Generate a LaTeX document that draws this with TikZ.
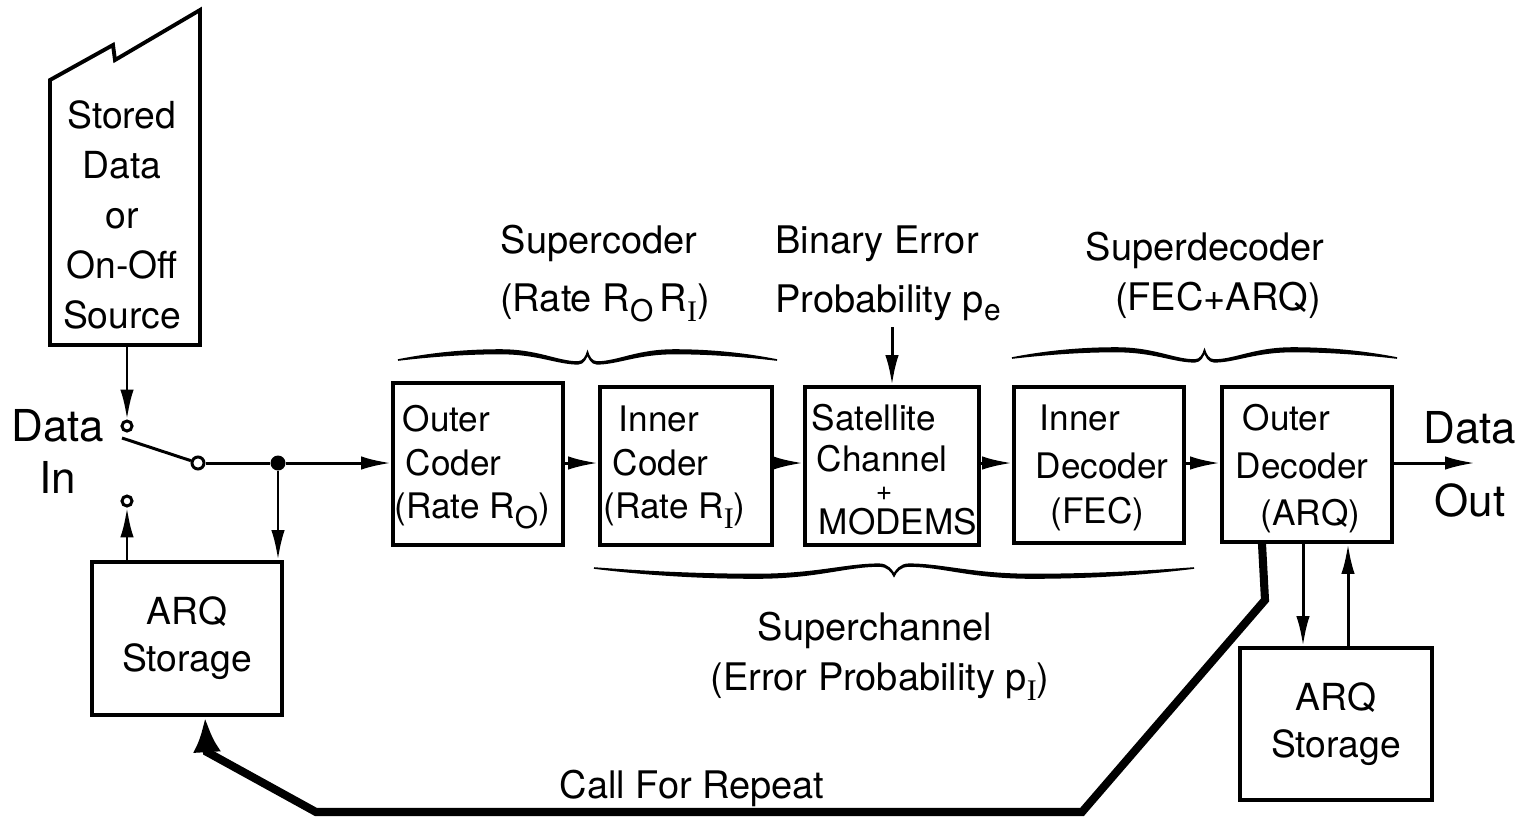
\documentclass[tikz,border=0pt]{standalone}
\usepackage{fontspec}
\setmainfont{TeX Gyre Heros}
\newfontfamily\serifI{Liberation Serif}
\usetikzlibrary{arrows.meta}
\newcommand\subO{\raisebox{-0.55ex}{\fontsize{8.5}{8.5}\selectfont O}}
\newcommand\subI{\raisebox{-0.55ex}{\fontsize{8.5}{8.5}\selectfont\serifI I}}
\newcommand\sube{\raisebox{-0.45ex}{\fontsize{8.5}{8.5}\selectfont e}}
\newcommand\calbrace[4]{%
\filldraw[line width=0.45pt, shift={(#1,#2)}, xscale=#3, yscale=#4]
 (0,0) .. controls (0.08,-6) and (0.17,-10) .. (0.27,-10)
 .. controls (0.37,-10) and (0.42,2) .. (0.475,2)
 .. controls (0.49,2) and (0.497,-4) .. (0.5,-8)
 .. controls (0.503,-4) and (0.51,2) .. (0.525,2)
 .. controls (0.58,2) and (0.63,-10) .. (0.73,-10)
 .. controls (0.83,-10) and (0.92,-6) .. (1,0)
 .. controls (0.92,-3.5) and (0.83,-6.5) .. (0.73,-6.5)
 .. controls (0.63,-6.5) and (0.58,3.8) .. (0.525,3.8)
 .. controls (0.51,3.8) and (0.503,-3) .. (0.5,-6.3)
 .. controls (0.497,-3) and (0.49,3.8) .. (0.475,3.8)
 .. controls (0.42,3.8) and (0.37,-6.5) .. (0.27,-6.5)
 .. controls (0.17,-6.5) and (0.08,-3.5) .. (0,0) -- cycle;}
\begin{document}
\begin{tikzpicture}[x=0.01cm, y=-0.01cm,
  box/.style={draw, line width=1.1pt, inner sep=0pt},
  tx/.style={inner sep=0pt, anchor=base west, font=\fontsize{10}{12}\selectfont},
  lbl/.style={inner sep=0pt, anchor=base, font=\fontsize{10.8}{13}\selectfont},
  ln/.style={line width=0.85pt},
  arr/.style={ln, -{Latex[length=8.5pt,width=3.8pt]}},
  big/.style={line width=2.3pt, -{Latex[length=10pt,width=8pt]}},
  contact/.style={circle, draw, ln, inner sep=0pt, fill=white}]
\fill[white] (0,0) rectangle (1530,820);
\useasboundingbox (0,0) rectangle (1530,820);

% stored data source
\draw[line width=1.1pt] (50,345) -- (50,80) -- (113,45) -- (115,60) -- (200,10) -- (200,345) -- cycle;
\node[inner sep=0pt, align=center, font=\fontsize{10.6}{14.2}\selectfont] (stored) at (122,215) {Stored\\Data\\or\\On-Off\\Source};
\coordinate (srcb) at (127,345);

% switch
\node[contact, minimum size=0.1cm] (sw1) at (127,426) {};
\node[contact, minimum size=0.12cm] (sw0) at (198,463) {};
\node[contact, minimum size=0.1cm] (sw2) at (127,501) {};
\node[circle, fill, inner sep=0pt, minimum size=0.15cm] (j) at (278,463) {};
\coordinate (armend) at (122,438);
\node[inner sep=0pt, align=center, font=\fontsize{12.5}{14.8}\selectfont] (din) at (58,451) {Data\\In};

% boxes
\node[box, minimum width=1.70cm, minimum height=1.62cm] (oc) at (478,464) {};
\node[box, minimum width=1.72cm, minimum height=1.58cm] (ic) at (686,466) {};
\node[box, minimum width=1.74cm, minimum height=1.58cm] (sat) at (892,466) {};
\node[box, minimum width=1.70cm, minimum height=1.56cm] (id) at (1099,465) {};
\node[box, minimum width=1.70cm, minimum height=1.55cm] (od) at (1307,464.5) {};
\node[box, minimum width=1.90cm, minimum height=1.53cm, align=center, font=\fontsize{10.6}{13.4}\selectfont] (ars1) at (187,638.5) {ARQ\\Storage};
\node[box, minimum width=1.92cm, minimum height=1.52cm, align=center, font=\fontsize{10.6}{13.4}\selectfont] (ars2) at (1336,724) {ARQ\\Storage};

% box texts
\node[tx] (oc1) at (402,431) {Outer};
\node[tx] (oc2) at (405,475) {Coder};
\node[tx] (oc3) at (394,518) {(Rate R\subO)};
\node[tx] (ic1) at (618,431) {Inner};
\node[tx] (ic2) at (612,475) {Coder};
\node[tx] (ic3) at (603,518) {(Rate R\subI)};
\node[tx] (sat1) at (811,430) {Satellite};
\node[tx] (sat2) at (816,471) {Channel};
\node[inner sep=0pt, font=\fontsize{8}{8}\selectfont] (plus) at (884,494) {+};
\node[tx] (sat3) at (818,534) {MODEMS};
\node[tx] (id1) at (1039,430) {Inner};
\node[tx] (id2) at (1035,478) {Decoder};
\node[tx] (id3) at (1050,523) {(FEC)};
\node[tx] (od1) at (1242,430) {Outer};
\node[tx] (od2) at (1235,478) {Decoder};
\node[tx] (od3) at (1260,525) {(ARQ)};

% labels
\node[lbl] (scd1) at (599,253) {Supercoder};
\node[lbl] (scd2) at (605,311) {(Rate R\subO\,R\subI)};
\node[lbl] (ber1) at (877,253) {Binary Error};
\node[lbl] (ber2) at (888,312) {Probability p\sube};
\node[lbl] (sdc1) at (1205,260) {Superdecoder};
\node[lbl] (sdc2) at (1218,310) {(FEC+ARQ)};
\node[lbl] (sch1) at (875,640) {Superchannel};
\node[lbl] (sch2) at (880,690) {(Error Probability p\subI)};
\node[lbl] (cfr) at (692,798) {Call For Repeat};
\node[inner sep=0pt, align=center, font=\fontsize{12.5}{20.8}\selectfont] (dout) at (1470,464) {Data\\Out};

% braces
\calbrace{398}{360}{379}{1}
\calbrace{1012}{358}{385}{1}
\calbrace{594}{568}{600}{-1}

% connectors
\coordinate (row) at (0,463);
\draw[arr] (srcb) -- (sw1);
\draw[ln] (armend) -- (sw0);
\draw[ln] (sw0) -- (j);
\draw[arr] (j) -- (j -| oc.west);
\draw[arr] (j) -- (j |- ars1.north);
\draw[arr] (ars1.north -| sw2) -- (sw2);
\draw[arr] (oc.east |- row) -- (ic.west |- row);
\draw[arr] (ic.east |- row) -- (sat.west |- row);
\draw[arr] (sat.east |- row) -- (id.west |- row);
\draw[arr] (id.east |- row) -- (od.west |- row);
\coordinate (outend) at (1475,463);
\draw[arr] (od.east |- row) -- (outend);
\coordinate (pe) at (892,327);
\draw[arr] (pe) -- (sat.north);
\coordinate (c1) at (1303,0);
\coordinate (c2) at (1348,0);
\draw[arr] (od.south -| c1) -- (ars2.north -| c1);
\draw[arr] (ars2.north -| c2) -- (od.south -| c2);
\coordinate (c3) at (1262,0);
\coordinate (c4) at (205,0);
\draw[big] (od.south -| c3) -- (1265,600) -- (1082,812) -- (316,812) -- (207,752) -- (ars1.south -| c4);
\end{tikzpicture}
\end{document}
